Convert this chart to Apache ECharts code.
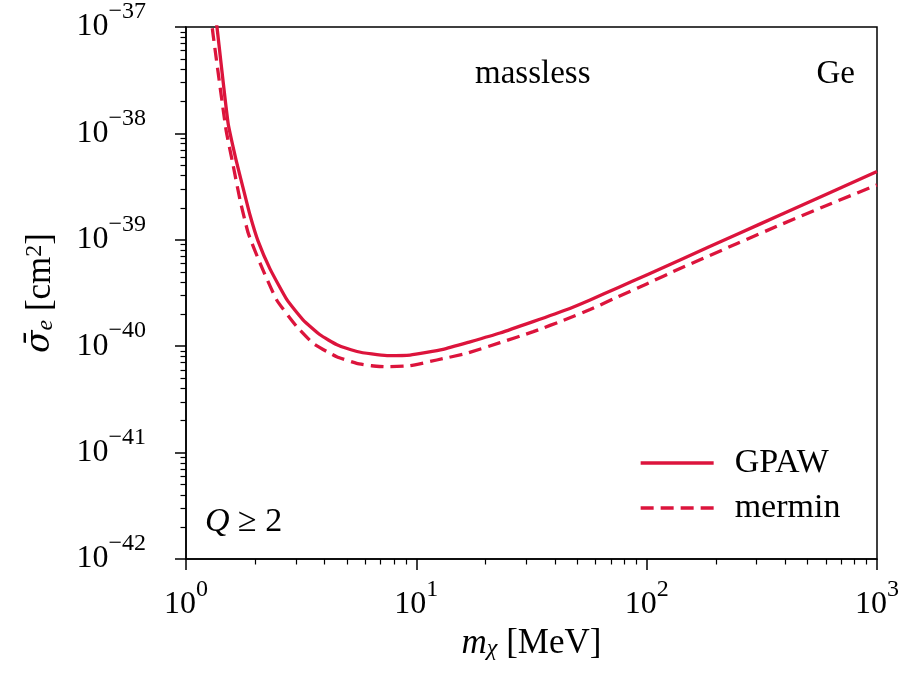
<!DOCTYPE html>
<html>
<head>
<meta charset="utf-8">
<script src="https://cdn.jsdelivr.net/npm/echarts@6/dist/echarts.min.js"></script>
<style>html,body{margin:0;padding:0;background:#fff}#c{width:905px;height:673px}</style>
</head>
<body>
<div id="c"></div>
<script>
// ---- data (sigma in cm^2, mass in MeV) ----
const gpawMass  = [1.33, 1.363, 1.522, 1.649, 1.769, 1.896, 2.054, 2.316, 2.746, 3.221, 3.818, 4.525, 5.527, 6.4, 7.462, 9.39, 13.06, 17.11, 23.09, 32.12, 45.1, 56.8, 75, 100, 139.6, 250, 379.6, 600, 1000];
const gpawSigma = [1.6e-37, 1.0e-37, 1.26e-38, 5.65e-39, 3.08e-39, 1.71e-39, 9.77e-40, 5.33e-40, 2.72e-40, 1.77e-40, 1.28e-40, 1.03e-40, 8.92e-41, 8.45e-41, 8.17e-41, 8.26e-41, 9.35e-41, 1.10e-40, 1.33e-40, 1.70e-40, 2.21e-40, 2.72e-40, 3.55e-40, 4.68e-40, 6.46e-40, 1.14e-39, 1.71e-39, 2.67e-39, 4.39e-39];
const merminMass  = [1.27, 1.314, 1.492, 1.600, 1.716, 1.864, 2.096, 2.476, 3.025, 3.572, 4.511, 5.51, 6.4, 7.44, 9.39, 12.27, 16.55, 23.09, 32.2, 45.0, 56.8, 74.2, 100, 139.6, 250, 379.6, 600, 1000];
const merminSigma = [1.5e-37, 8.17e-38, 1.08e-38, 5.08e-39, 2.37e-39, 1.15e-39, 6.03e-40, 2.72e-40, 1.53e-40, 1.06e-40, 7.96e-41, 6.90e-41, 6.55e-41, 6.41e-41, 6.56e-41, 7.42e-41, 8.57e-41, 1.08e-40, 1.37e-40, 1.80e-40, 2.21e-40, 2.88e-40, 3.85e-40, 5.37e-40, 9.33e-40, 1.38e-39, 2.09e-39, 3.28e-39];
const xTickExp = [0, 1, 2, 3];
const yTickExp = [-42, -41, -40, -39, -38, -37];
const seriesNames = ['GPAW', 'mermin'];

// ---- helpers ----
const FONT = 'Liberation Serif';
const COLOR = '#dc143c';
// the y axis works in units of 1e-42 cm^2 (keeps the log scale numerically stable); labels show true powers
const Y_EXP0 = yTickExp[0];
const Y_UNIT = Math.pow(10, Y_EXP0);
const xMajor = xTickExp.map(e => Math.pow(10, e));
const yMajor = yTickExp.map(e => Math.pow(10, e - Y_EXP0));
function minorsOf(exps, shift) {
  const out = [];
  for (let i = 0; i < exps.length - 1; i++) {
    for (let k = 2; k <= 9; k++) out.push(k * Math.pow(10, exps[i] - shift));
  }
  return out;
}
const xMinor = minorsOf(xTickExp, 0);
const yMinor = minorsOf(yTickExp, Y_EXP0);
function powText(e) {
  const s = e < 0 ? '\u2212' + (-e) : String(e);
  return '{b|10}{s|' + s + '}';
}
const xLabel = v => powText(Math.round(Math.log10(v)));
const yLabel = v => powText(Math.round(Math.log10(v)) + Y_EXP0);
const powRich = {
  b: { fontFamily: FONT, fontSize: 32, lineHeight: 54, color: '#000' },
  s: { fontFamily: FONT, fontSize: 24, lineHeight: 24, verticalAlign: 'top', color: '#000' }
};
const toPairs = (xs, ys) => xs.map((v, i) => [v, ys[i] / Y_UNIT]);

const chart = echarts.init(document.getElementById('c'), null, { renderer: 'canvas' });
const gridBox = { left: 186, right: 28, top: 27, bottom: 114 };

chart.setOption({
  animation: false,
  backgroundColor: '#fff',
  grid: Object.assign({ show: true, borderColor: '#000', borderWidth: 1.5, backgroundColor: 'transparent', containLabel: false }, gridBox),
  xAxis: [
    {
      type: 'log', logBase: 10, min: xMajor[0], max: xMajor[xMajor.length - 1], position: 'bottom',
      axisLine: { show: true, lineStyle: { color: '#000', width: 1.5 } },
      axisTick: { show: true, inside: false, length: 11, lineStyle: { color: '#000', width: 1.5 }, customValues: xMajor },
      axisLabel: { show: true, margin: 19, formatter: xLabel, rich: powRich, customValues: xMajor },
      splitLine: { show: false },
      name: '{i|m}{sub|\u03c7} [MeV]',
      nameLocation: 'middle', nameGap: 60,
      nameTextStyle: {
        rich: {
          i: { fontFamily: FONT, fontStyle: 'italic', fontSize: 35, color: '#000' },
          sub: { fontFamily: FONT, fontStyle: 'italic', fontSize: 24, verticalAlign: 'bottom', lineHeight: 30, color: '#000' }
        },
        fontFamily: FONT, fontSize: 35, color: '#000'
      }
    },
    {
      type: 'log', logBase: 10, min: xMajor[0], max: xMajor[xMajor.length - 1], position: 'bottom',
      axisLine: { show: false },
      axisTick: { show: true, inside: false, length: 5.5, lineStyle: { color: '#000', width: 1.2 }, customValues: xMinor },
      axisLabel: { show: false },
      splitLine: { show: false }
    }
  ],
  yAxis: [
    {
      type: 'log', logBase: 10, min: yMajor[0], max: yMajor[yMajor.length - 1], position: 'left',
      axisLine: { show: true, lineStyle: { color: '#000', width: 1.5 } },
      axisTick: { show: true, inside: false, length: 11, lineStyle: { color: '#000', width: 1.5 }, customValues: yMajor },
      axisLabel: { show: true, margin: 40, formatter: yLabel, rich: powRich, customValues: yMajor },
      splitLine: { show: false },
      name: '{sig|\u03c3\u0304}{sub|e} [cm{sup|2}]',
      nameLocation: 'middle', nameGap: 128, nameRotate: 90,
      nameTextStyle: {
        fontFamily: FONT, fontSize: 35, color: '#000',
        rich: {
          sig: { fontFamily: 'DejaVu Serif', fontStyle: 'italic', fontSize: 33, color: '#000' },
          sub: { fontFamily: FONT, fontStyle: 'italic', fontSize: 24, verticalAlign: 'bottom', lineHeight: 30, color: '#000' },
          sup: { fontFamily: FONT, fontSize: 24, verticalAlign: 'top', lineHeight: 30, color: '#000' }
        }
      }
    },
    {
      type: 'log', logBase: 10, min: yMajor[0], max: yMajor[yMajor.length - 1], position: 'left',
      axisLine: { show: false },
      axisTick: { show: true, inside: false, length: 5.5, lineStyle: { color: '#000', width: 1.2 }, customValues: yMinor },
      axisLabel: { show: false },
      splitLine: { show: false }
    }
  ],
  legend: {
    orient: 'vertical', left: 634, top: 441,
    itemWidth: 73, itemHeight: 24, itemGap: 11,
    itemStyle: { opacity: 0 },
    lineStyle: { width: 3.3 },
    textStyle: { fontFamily: FONT, fontSize: 34, color: '#000', padding: [0, 0, 0, 16] },
    data: seriesNames
  },
  series: [
    {
      name: seriesNames[0], type: 'line', xAxisIndex: 0, yAxisIndex: 0,
      data: toPairs(gpawMass, gpawSigma), symbol: 'none', smooth: 0.15, clip: true,
      lineStyle: { color: COLOR, width: 3.3, type: 'solid', join: 'round' }, itemStyle: { color: COLOR }
    },
    {
      name: seriesNames[1], type: 'line', xAxisIndex: 0, yAxisIndex: 0,
      data: toPairs(merminMass, merminSigma), symbol: 'none', smooth: 0.15, clip: true,
      lineStyle: { color: COLOR, width: 3.3, type: [13, 7], join: 'round' }, itemStyle: { color: COLOR }
    }
  ],
  graphic: [
    { type: 'text', left: 475, top: 58, style: { text: 'massless', font: '33px "Liberation Serif"', fill: '#000' } },
    { type: 'text', right: 50, top: 58, style: { text: 'Ge', font: '33px "Liberation Serif"', fill: '#000' } },
    { type: 'text', left: 205, top: 505, style: {
        text: '{i|Q} \u2265 2',
        rich: { i: { fontFamily: FONT, fontStyle: 'italic', fontSize: 34, fill: '#000' } },
        font: '34px "Liberation Serif"', fill: '#000'
      } }
  ]
});
</script>
</body>
</html>
